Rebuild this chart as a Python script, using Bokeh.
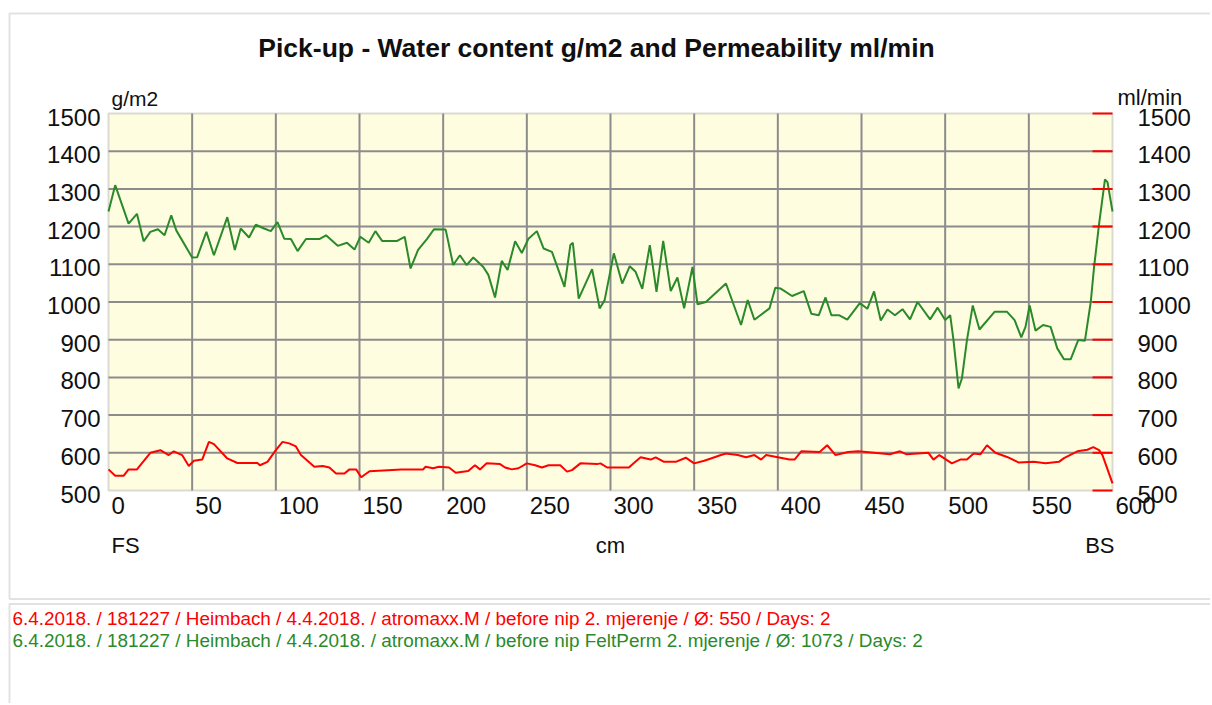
from bokeh.plotting import figure
from bokeh.models import Range1d, Label, BoxAnnotation
from bokeh.embed import file_html
from bokeh.resources import INLINE

# ---------------- data ----------------
TITLE = "Pick-up - Water content g/m2 and Permeability ml/min"
LEFT_UNIT = "g/m2"
RIGHT_UNIT = "ml/min"
X_NAME = "cm"
X_START = "FS"
X_END = "BS"
X_TICKS = [0, 50, 100, 150, 200, 250, 300, 350, 400, 450, 500, 550, 600]
Y_TICKS = [500, 600, 700, 800, 900, 1000, 1100, 1200, 1300, 1400, 1500]

# Permeability ml/min (red)
R_X = [0, 4, 9, 12, 17, 25, 31, 36, 39, 44, 48, 51, 56, 60, 63, 71, 77, 89, 90.5, 95,
       100, 104, 108, 112, 115, 123, 128, 132, 136, 141, 144, 148, 151, 156, 175, 188, 189.5, 194, 197.5,
       203.5, 207.5, 215, 219, 222, 226, 234, 237, 241, 245, 250, 255, 259, 263, 270, 274, 277, 282, 292,
       294, 298, 311, 314, 318, 324, 327, 332, 339, 345, 350, 356, 360, 366, 369, 376, 381, 386, 390, 393,
       400, 407, 410, 414, 425, 429.5, 434.5, 442, 448, 467, 473, 477, 490, 493, 496.5, 504, 509, 513, 517,
       521, 525, 530, 537, 544, 553, 560, 568, 571, 579, 585, 588.5, 592, 594, 600]
R_Y = [556, 539, 539, 556, 556, 600, 607, 594, 604, 594, 565, 579, 582, 629, 623, 585, 573, 573, 567, 576,
       607, 629, 625, 617, 594, 563, 565, 561, 545, 545, 556, 556, 535, 551, 556, 556, 563, 559, 563,
       561, 547, 552, 567, 556, 572, 570, 561, 556, 559, 572, 567, 561, 567, 567, 550, 554, 572, 570,
       572, 561, 561, 573, 588, 582, 588, 576, 576, 587, 572, 579, 585, 594, 598, 594, 588, 594, 582, 594,
       588, 582, 582, 604, 602, 620, 594, 602, 604, 596, 604, 596, 600, 582, 594, 572, 582, 582, 598,
       596, 620, 600, 589, 574, 576, 572, 576, 586, 604, 608, 615, 607, 594, 519]

# Water content g/m2 (green)
G_X = [0, 4, 12, 17, 21, 25, 29.5, 33.5, 37.5, 40.5, 50, 53, 58.5, 63, 71, 75.5, 79, 84, 88, 93,
       97, 101, 105, 109, 113, 118, 126, 130, 137, 142.5, 147, 150.5, 155.5, 159.5, 163.5, 172.5, 177, 180.5,
       185, 190.5, 194.5, 201.5, 206, 210, 214, 218, 224, 227, 231, 235, 238.5, 243, 247, 251, 256, 260,
       265, 272.5, 276, 277.5, 281, 289, 293.5, 296.5, 302, 307, 311.5, 315, 319, 323.5, 327.5, 331.5, 336,
       340, 344, 349, 352, 357, 369, 378, 382, 386, 395, 398.5, 401.5, 408.5, 415.5, 420, 424.5, 428.5, 432,
       436.5, 441.5, 449, 453.5, 457.5, 461.5, 465.5, 470, 474.5, 479, 483.5, 491, 495.5, 500, 503, 505, 508,
       510, 513, 516.5, 520.5, 529.5, 537, 541.5, 545.5, 548, 550.5, 554, 558.5, 563, 567, 571, 575, 579.5,
       583.5, 587, 589, 592, 595.5, 597, 600]
G_Y = [1240, 1310, 1208, 1234, 1161, 1186, 1193, 1177, 1230, 1190, 1118, 1119, 1186, 1124, 1225, 1138, 1195, 1171, 1205, 1195,
       1188, 1212, 1168, 1167, 1135, 1167, 1167, 1177, 1149, 1157, 1139, 1173, 1157, 1188, 1162, 1162, 1173, 1089,
       1138, 1168, 1193, 1192, 1098, 1124, 1098, 1118, 1093, 1072, 1012, 1109, 1085, 1161, 1130, 1168, 1188, 1142,
       1133, 1040, 1151, 1157, 1009, 1087, 983, 1005, 1129, 1049, 1095, 1080, 1035, 1151, 1027, 1162, 1029,
       1065, 983, 1093, 994, 1000, 1049, 939, 1005, 953, 983, 1038, 1036, 1016, 1029, 969, 965, 1012, 965,
       965, 953, 997, 982, 1028, 951, 980, 965, 981, 954, 1000, 954, 985, 952, 965, 898, 771,
       797, 898, 991, 927, 974, 974, 952, 906, 934, 991, 924, 939, 934, 877, 848, 848, 899,
       897, 1000, 1093, 1208, 1325, 1318, 1240]

LEGEND_RED = "6.4.2018. / 181227 / Heimbach / 4.4.2018. / atromaxx.M / before nip 2. mjerenje / \u00d8:  550 / Days:  2"
LEGEND_GREEN = "6.4.2018. / 181227 / Heimbach / 4.4.2018. / atromaxx.M / before nip FeltPerm 2. mjerenje / \u00d8:  1073 / Days:  2"

# ---------------- style / layout ----------------
RED = "#ff0000"
GREEN = "#2a8a2a"
FONT = "Liberation Sans"
TXT = "#101010"
GRID_C = "#8c8c8c"
W, H = 1210, 703
PX_L, PX_R, PX_T, PX_B = 108, 1112, 113, 490      # plot area in page pixels
TICK_LEN = 20                                      # red inward ticks, px
X0, X1 = X_TICKS[0], X_TICKS[-1]
Y0, Y1 = Y_TICKS[0], Y_TICKS[-1]
KX = (PX_R - PX_L) / (X1 - X0)
KY = (PX_B - PX_T) / (Y1 - Y0)

def px2x(px):
    return X0 + (px - PX_L) / KX

def px2y(py):
    return Y0 + (PX_B - py) / KY

# the frame covers the whole canvas so that nothing outside the plot area gets clipped
p = figure(width=W, height=H, title=None,
           x_range=Range1d(px2x(0), px2x(W)), y_range=Range1d(px2y(H), px2y(0)),
           x_axis_type=None, y_axis_type=None, output_backend="svg", toolbar_location=None,
           min_border=0)
p.outline_line_color = None
p.background_fill_color = "#FFFFFF"
p.border_fill_color = "#FFFFFF"

# window frames
for top, bottom in [(13, 598.5), (603.5, 800)]:
    p.add_layout(BoxAnnotation(left=px2x(9), right=px2x(W + 40), top=px2y(top), bottom=px2y(bottom),
                               fill_color=None, line_color="#a0a0a0", line_width=2, level="image"))

# plot area
p.add_layout(BoxAnnotation(left=X0, right=X1, bottom=Y0, top=Y1, fill_color="#FFFDE0", fill_alpha=1,
                           line_color="#888888", line_width=2, level="image"))

# grid lines
gx = X_TICKS[1:-1]
gy = Y_TICKS[1:-1]
p.segment(x0=gx, y0=[Y0] * len(gx), x1=gx, y1=[Y1] * len(gx), line_color=GRID_C, line_width=2)
p.segment(x0=[X0] * len(gy), y0=gy, x1=[X1] * len(gy), y1=gy, line_color=GRID_C, line_width=2)

# data
p.line(R_X, R_Y, line_color=RED, line_width=2)
p.line(G_X, G_Y, line_color=GREEN, line_width=2)

# red inward ticks of the right (ml/min) scale
p.segment(x0=[X1 - TICK_LEN / KX] * len(Y_TICKS), y0=Y_TICKS, x1=[X1] * len(Y_TICKS), y1=Y_TICKS,
          line_color=RED, line_width=2)

def lab(**kw):
    base = dict(text_font=FONT, text_color=TXT, text_baseline="alphabetic")
    base.update(kw)
    p.add_layout(Label(**base))

for t in Y_TICKS:
    lab(x=X0, y=t, text=str(t), x_offset=-8, y_offset=-3.5, text_align="right", text_font_size="24px")
    lab(x=X1, y=t, text=str(t), x_offset=25, y_offset=-3.5, text_align="left", text_font_size="24px")
for t in X_TICKS:
    lab(x=t, y=Y0, text=str(t), x_offset=3, y_offset=-15, text_align="left", text_font_size="24px")

lab(x=X0, y=Y0, text=X_START, x_offset=3, y_offset=-55, text_align="left", text_font_size="22px")
lab(x=(X0 + X1) / 2, y=Y0, text=X_NAME, y_offset=-55, text_align="center", text_font_size="22px")
lab(x=X1, y=Y0, text=X_END, x_offset=2, y_offset=-55, text_align="right", text_font_size="22px")
lab(x=X0, y=Y1, text=LEFT_UNIT, x_offset=3, y_offset=15, text_align="left", text_font_size="21px")
lab(x=X1, y=Y1, text=RIGHT_UNIT, x_offset=5, y_offset=16, text_align="left", text_font_size="22px")

lab(x=px2x(596), y=Y1, y_offset=66, text=TITLE, text_align="center",
    text_font_size="26.5px", text_font_style="bold")
lab(x=px2x(12), y=Y0, y_offset=-128, text=LEGEND_RED, text_align="left",
    text_font_size="18.9px", text_color=RED)
lab(x=px2x(12), y=Y0, y_offset=-150, text=LEGEND_GREEN, text_align="left",
    text_font_size="18.9px", text_color=GREEN)

open("out.html", "w").write(file_html(p, INLINE))
